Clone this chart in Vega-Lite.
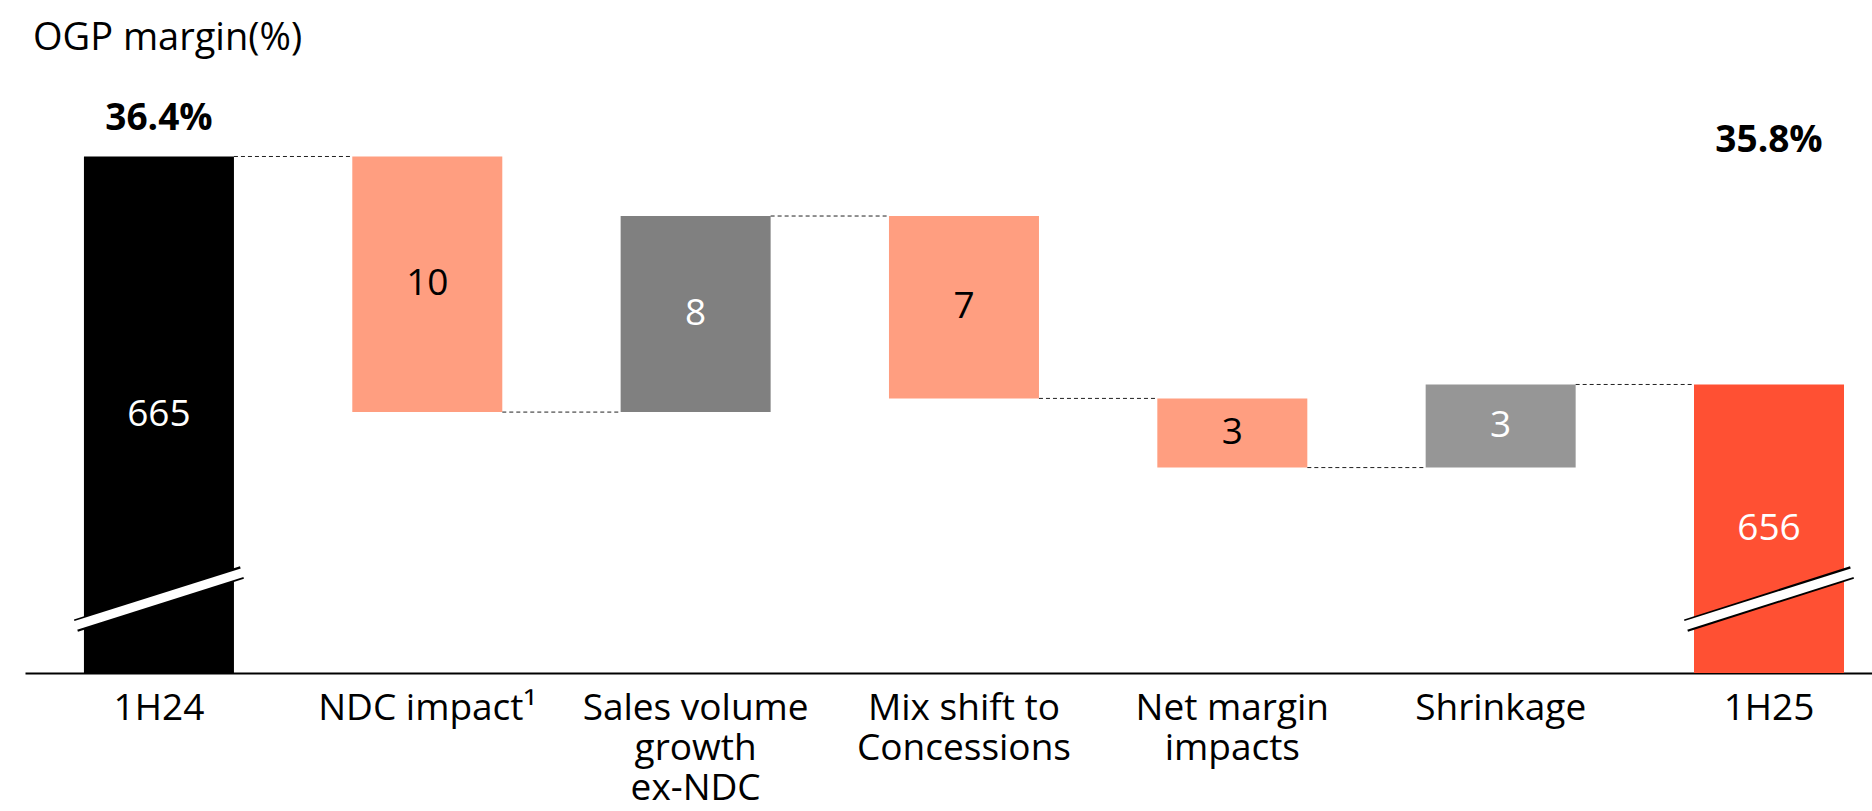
{
  "$schema": "https://vega.github.io/schema/vega-lite/v6.json",
  "autosize": "none",
  "width": 1847,
  "height": 593,
  "padding": {"left": 25, "top": 80, "right": 0, "bottom": 138},
  "background": "white",
  "config": {"view": {"stroke": null}, "font": "Open Sans"},
  "title": {
    "text": "OGP margin(%)",
    "anchor": "start",
    "frame": "group",
    "orient": "top",
    "font": "Open Sans",
    "fontSize": 38,
    "fontWeight": "normal",
    "color": "black",
    "baseline": "alphabetic",
    "dx": 8,
    "dy": 38,
    "offset": 30
  },
  "datasets": {
    "bars": [
      {"category": "1H24", "kind": "total", "start": 644.61, "end": 665.0, "label": "665"},
      {"category": "NDC impact¹", "kind": "decrease", "start": 665.0, "end": 654.91, "label": "10"},
      {"category": "Sales volume|growth|ex-NDC", "kind": "increase", "start": 654.91, "end": 662.65, "label": "8"},
      {"category": "Mix shift to|Concessions", "kind": "decrease", "start": 662.65, "end": 655.45, "label": "7"},
      {"category": "Net margin|impacts", "kind": "decrease", "start": 655.45, "end": 652.72, "label": "3"},
      {"category": "Shrinkage", "kind": "increase", "start": 652.72, "end": 656.0, "label": "3"},
      {"category": "1H25", "kind": "total", "start": 644.61, "end": 656.0, "label": "656"}
    ],
    "connectors": [
      {"category": "1H24", "next": "NDC impact¹", "level": 665.0},
      {"category": "NDC impact¹", "next": "Sales volume|growth|ex-NDC", "level": 654.91},
      {"category": "Sales volume|growth|ex-NDC", "next": "Mix shift to|Concessions", "level": 662.65},
      {"category": "Mix shift to|Concessions", "next": "Net margin|impacts", "level": 655.45},
      {"category": "Net margin|impacts", "next": "Shrinkage", "level": 652.72},
      {"category": "Shrinkage", "next": "1H25", "level": 656.0}
    ],
    "breaks": [
      {"category": "1H24", "lo": 646.48, "hi": 648.58},
      {"category": "1H25", "lo": 646.48, "hi": 648.58}
    ],
    "margins": [
      {"category": "1H24", "level": 666.05, "text": "36.4%"},
      {"category": "1H25", "level": 665.18, "text": "35.8%"}
    ]
  },
  "encoding": {
    "x": {
      "field": "category",
      "type": "nominal",
      "scale": {
        "domain": ["1H24", "NDC impact¹", "Sales volume|growth|ex-NDC", "Mix shift to|Concessions", "Net margin|impacts", "Shrinkage", "1H25"],
        "paddingInner": 0.441,
        "paddingOuter": 0.162,
        "align": 0.678
      },
      "axis": {
        "title": null,
        "labelExpr": "split(datum.label, '|')",
        "labelFont": "Open Sans",
        "labelFontSize": 37,
        "labelColor": "black",
        "labelAngle": 0,
        "labelAlign": "center",
        "labelBaseline": "top",
        "labelPadding": 17,
        "labelLineHeight": 40,
        "labelLimit": 0,
        "labelOverlap": false,
        "ticks": false,
        "grid": false,
        "domainColor": "black",
        "domainWidth": 2
      }
    }
  },
  "layer": [
    {
      "data": {"name": "bars"},
      "mark": {"type": "bar"},
      "encoding": {
        "y": {"field": "start", "type": "quantitative", "scale": {"domain": [644.61, 668.02], "zero": false, "nice": false}, "axis": null},
        "y2": {"field": "end"},
        "color": {
          "field": "category",
          "type": "nominal",
          "scale": {
            "domain": ["1H24", "NDC impact¹", "Sales volume|growth|ex-NDC", "Mix shift to|Concessions", "Net margin|impacts", "Shrinkage", "1H25"],
            "range": ["#000000", "#FF9E80", "#808080", "#FF9E80", "#FF9E80", "#969696", "#FF5033"]
          },
          "legend": null
        }
      }
    },
    {
      "data": {"name": "connectors"},
      "mark": {"type": "rule", "stroke": "#222222", "strokeWidth": 1, "strokeDash": [4, 3], "xOffset": 75, "x2Offset": -75},
      "encoding": {
        "x2": {"field": "next"},
        "y": {"field": "level", "type": "quantitative", "scale": {"domain": [644.61, 668.02], "zero": false, "nice": false}, "axis": null}
      }
    },
    {
      "data": {"name": "breaks"},
      "mark": {"type": "rule", "stroke": "black", "strokeWidth": 13, "strokeCap": "butt", "xOffset": -83, "x2Offset": 83},
      "encoding": {
        "x2": {"field": "category"},
        "y": {"field": "lo", "type": "quantitative", "scale": {"domain": [644.61, 668.02], "zero": false, "nice": false}, "axis": null},
        "y2": {"field": "hi"}
      }
    },
    {
      "data": {"name": "breaks"},
      "mark": {"type": "rule", "stroke": "white", "strokeWidth": 9, "strokeCap": "butt", "xOffset": -84, "x2Offset": 84},
      "encoding": {
        "x2": {"field": "category"},
        "y": {"field": "lo", "type": "quantitative", "scale": {"domain": [644.61, 668.02], "zero": false, "nice": false}, "axis": null},
        "y2": {"field": "hi"}
      }
    },
    {
      "data": {"name": "bars"},
      "transform": [{"fold": ["start", "end"], "as": ["edge", "val"]}],
      "mark": {"type": "text", "font": "Open Sans", "fontSize": 37, "baseline": "middle", "align": "center"},
      "encoding": {
        "y": {"field": "val", "aggregate": "mean", "type": "quantitative", "scale": {"domain": [644.61, 668.02], "zero": false, "nice": false}, "axis": null},
        "text": {"field": "label"},
        "detail": {"field": "kind"},
        "color": {"condition": {"test": "datum.kind === 'decrease'", "value": "black"}, "value": "white"}
      }
    },
    {
      "data": {"name": "margins"},
      "mark": {"type": "text", "font": "Open Sans", "fontSize": 37, "fontWeight": "bold", "baseline": "alphabetic", "align": "center", "color": "black"},
      "encoding": {
        "y": {"field": "level", "type": "quantitative", "scale": {"domain": [644.61, 668.02], "zero": false, "nice": false}, "axis": null},
        "text": {"field": "text"}
      }
    }
  ]
}
